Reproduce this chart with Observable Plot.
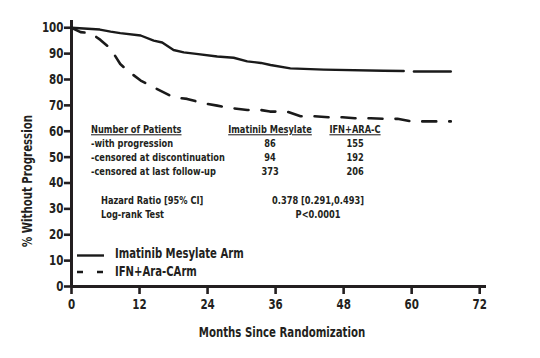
<!DOCTYPE html>
<html>
<head>
<meta charset="utf-8">
<script src="https://cdn.jsdelivr.net/npm/d3@7"></script>
<script src="https://cdn.jsdelivr.net/npm/@observablehq/plot@0.6"></script>
<style>
  body { margin: 0; background: #fff; }
  #wrap { position: relative; width: 540px; height: 358px; }
  #wrap svg.overlay { position: absolute; left: 0; top: 0; pointer-events: none; }
  #wrap [aria-label="x-axis tick"] path, #wrap [aria-label="y-axis tick"] path { stroke-width: 2.6px; }
  .cf { font-family: "Liberation Sans Narrow", "DejaVu Sans Condensed", "Arial Narrow", sans-serif; font-weight: bold; }
</style>
</head>
<body>
<div id="wrap"></div>
<script>
// ---- data ----
const imatinibMonths = [0, 5.0, 6.9, 8.6, 12.2, 14.5, 16, 18, 19.8, 22, 25.7, 28.6, 31, 33.4, 35.1, 38.6, 44.5, 55, 58.6];
const imatinibPct    = [100, 99.3, 98.5, 97.9, 97.0, 95.0, 94.3, 91.4, 90.5, 89.9, 88.9, 88.4, 87.0, 86.4, 85.6, 84.3, 83.8, 83.4, 83.3];
const imatinibTailMonths = [60.4, 66.9];
const imatinibTailPct    = [83.1, 83.1];
const ifnMonths = [0, 1.6, 3.4, 5.1, 6.9, 8.6, 9.9, 12.2, 14.5, 18, 20.4, 23.3, 25.7, 28, 31, 33.4, 35, 38, 40.4, 42.7, 45.3, 47.8, 50, 52.8, 55, 57.5, 60, 62.5, 64.7, 66.9];
const ifnPct    = [100, 98.3, 97.9, 95.3, 91.9, 86, 83.4, 79.6, 77, 73.1, 72.5, 70.8, 69.9, 69, 68.2, 68.2, 67.6, 67.6, 65.8, 65.8, 65.4, 65.4, 65, 65, 64.8, 64.8, 63.8, 63.8, 63.8, 63.8];
const xTicks = [0, 12, 24, 36, 48, 60, 72];
const yTicks = [0, 10, 20, 30, 40, 50, 60, 70, 80, 90, 100];
const tableHeaders = ["Number of Patients", "Imatinib Mesylate", "IFN+ARA-C"];
const tableRows = ["-with progression", "-censored at discontinuation", "-censored at last follow-up"];
const imatinibCounts = ["86", "94", "373"];
const ifnCounts = ["155", "192", "206"];
const statLabels = ["Hazard Ratio [95% CI]", "Log-rank Test"];
const statValues = ["0.378 [0.291,0.493]", "P<0.0001"];
const legendLabels = ["Imatinib Mesylate Arm", "IFN+Ara-CArm"];
const xTitle = "Months Since Randomization";
const yTitle = "% Without Progression";

const toRows = (xs, ys) => xs.map((m, i) => ({month: m, pct: ys[i]}));
const ink = "#231f20";
const font = '"Liberation Sans Narrow", "DejaVu Sans Condensed", "Arial Narrow", sans-serif';

const chart = Plot.plot({
  width: 540,
  height: 358,
  marginLeft: 71,
  marginRight: 54,
  marginTop: 20,
  marginBottom: 72,
  style: {fontFamily: font, fontSize: "14px", fontWeight: "bold", color: ink, background: "#fff"},
  x: {domain: [0, 73.2], ticks: xTicks, tickSize: 8, tickPadding: 5, label: null},
  y: {domain: [0, 102.8], ticks: yTicks, tickSize: 7, tickPadding: 1, label: null},
  marks: [
    Plot.ruleX([0], {stroke: ink, strokeWidth: 3}),
    Plot.ruleY([0], {stroke: ink, strokeWidth: 3}),
    Plot.line(toRows(imatinibMonths, imatinibPct), {x: "month", y: "pct", stroke: "#1a1a1a", strokeWidth: 2.4}),
    Plot.line(toRows(imatinibTailMonths, imatinibTailPct), {x: "month", y: "pct", stroke: "#1a1a1a", strokeWidth: 2.4}),
    Plot.line(toRows(ifnMonths, ifnPct), {x: "month", y: "pct", stroke: "#1a1a1a", strokeWidth: 2.6, strokeDasharray: "14,13"})
  ]
});

const wrap = document.getElementById("wrap");
wrap.appendChild(chart);

// condense the axis tick labels horizontally
d3.select(chart).selectAll('[aria-label="x-axis tick label"] text, [aria-label="y-axis tick label"] text')
  .each(function () {
    const tr = this.getAttribute("transform") || "";
    this.setAttribute("transform", tr + " scale(0.82,1)");
  });

// ---- overlay: table, stats, legend, axis titles ----
const ov = d3.select(wrap).append("svg").attr("class", "overlay")
  .attr("width", 540).attr("height", 358);
const g = ov.append("g").attr("class", "cf").attr("fill", ink);

const t = (x, y, s, size, anchor = "start", sx = 0.875) =>
  g.append("text").attr("transform", `translate(${x},${y}) scale(${sx},1)`).attr("font-size", size)
   .attr("text-anchor", anchor).attr("dominant-baseline", "middle").text(s);

const fs = 10.5;
// table headers
t(91, 130, tableHeaders[0], fs).style("text-decoration", "underline");
t(270, 130, tableHeaders[1], fs, "middle").style("text-decoration", "underline");
t(355, 130, tableHeaders[2], fs, "middle").style("text-decoration", "underline");
tableRows.forEach((r, i) => {
  t(91, 144 + i * 14, r, fs);
  t(270, 144 + i * 14, imatinibCounts[i], fs, "middle");
  t(355, 144 + i * 14, ifnCounts[i], fs, "middle");
});
statLabels.forEach((s, i) => {
  t(101, 201 + i * 14, s, fs);
  t(318, 201 + i * 14, statValues[i], fs, "middle");
});

// legend
g.append("line").attr("x1", 77).attr("x2", 104).attr("y1", 255.5).attr("y2", 255.5)
  .attr("stroke", "#1a1a1a").attr("stroke-width", 2.4);
g.append("line").attr("x1", 77).attr("x2", 104).attr("y1", 272).attr("y2", 272)
  .attr("stroke", "#1a1a1a").attr("stroke-width", 2.4).attr("stroke-dasharray", "6,14");
t(115, 254.5, legendLabels[0], 13.5, "start", 0.83);
t(115, 272, legendLabels[1], 13.5, "start", 0.83);

// axis titles
t(282, 333, xTitle, 14, "middle", 0.81);
g.append("text").attr("transform", "translate(28,181) rotate(-90) scale(0.81,1)")
  .attr("text-anchor", "middle").attr("dominant-baseline", "middle")
  .attr("font-size", 14).text(yTitle);
</script>
</body>
</html>
